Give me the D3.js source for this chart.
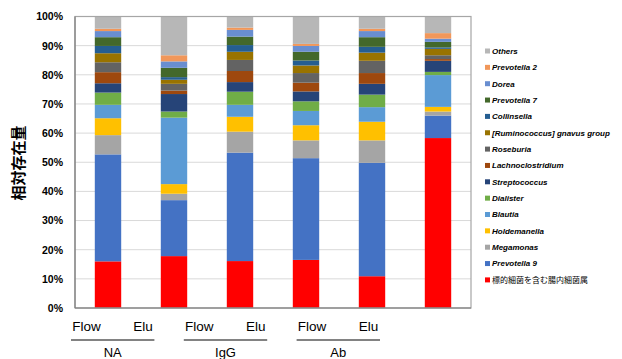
<!DOCTYPE html>
<html><head><meta charset="utf-8">
<script src="https://cdn.jsdelivr.net/npm/d3@7"></script>
<style>body{margin:0;background:#fff}svg{display:block}</style>
</head><body>
<script>
const samples = ["NA-Flow","NA-Elu","IgG-Flow","IgG-Elu","Ab-Flow","Ab-Elu"];
const sampleLabels = ["Flow","Elu","Flow","Elu","Flow","Elu"];
const groups = ["NA","IgG","Ab"];
const taxa = ["標的細菌を含む腸内細菌属","Prevotella 9","Megamonas","Holdemanella","Blautia","Dialister","Streptococcus","Lachnoclostridium","Roseburia","[Ruminococcus] gnavus group","Collinsella","Prevotella 7","Dorea","Prevotella 2","Others"];
const target    = [16.0, 17.8, 16.1, 16.5, 10.9, 58.3];
const prev9     = [36.7, 19.2, 37.2, 34.9, 38.9, 7.7];
const megamonas = [6.6, 2.2, 7.2, 6.1, 7.7, 1.4];
const holdem    = [5.8, 3.3, 5.1, 5.2, 6.4, 1.6];
const blautia   = [4.6, 22.8, 4.1, 4.9, 5.0, 10.9];
const dialister = [4.2, 2.1, 4.5, 3.3, 4.3, 1.1];
const strep     = [3.2, 6.0, 3.3, 3.4, 3.7, 3.8];
const lachno    = [3.8, 1.2, 3.8, 3.0, 3.7, 0.6];
const roseburia = [3.4, 2.3, 3.8, 3.3, 4.2, 1.3];
const rumino    = [3.1, 1.4, 2.8, 2.6, 2.8, 2.2];
const collins   = [2.5, 0.9, 2.3, 1.7, 2.0, 0.5];
const prev7     = [3.0, 3.2, 2.9, 3.0, 3.3, 1.9];
const dorea     = [2.1, 2.2, 2.3, 2.0, 2.1, 1.1];
const prev2     = [0.8, 2.1, 0.8, 0.7, 0.8, 1.9];
const others    = [4.2, 13.3, 3.8, 9.4, 4.2, 5.7];
const seriesVals = [target,prev9,megamonas,holdem,blautia,dialister,strep,lachno,roseburia,rumino,collins,prev7,dorea,prev2,others];
const colors = ["#FF0000","#4472C4","#A5A5A5","#FFC000","#5B9BD5","#70AD47","#264478","#9E480E","#636363","#997300","#255E91","#43682B","#698ED0","#F1975A","#B7B7B7"];
const yTicks = [0,10,20,30,40,50,60,70,80,90,100];

const W=622,H=359;
const svg=d3.select("body").append("svg").attr("width",W).attr("height",H);
const L=75,R=471,T=16.5,B=308;
const x=d3.scaleBand().domain(samples).range([L,R]).paddingInner(0.6).paddingOuter(0.3);
const y=d3.scaleLinear().domain([0,100]).range([B,T]);

// grid
svg.append("g").selectAll("line").data(yTicks).join("line")
 .attr("x1",L).attr("x2",R).attr("y1",d=>y(d)).attr("y2",d=>y(d))
 .attr("stroke","#d9d9d9").attr("stroke-width",1);

// stack
const rows=samples.map((s,i)=>{const o={sample:s};taxa.forEach((t,j)=>o[t]=seriesVals[j][i]);return o;});
const stacked=d3.stack().keys(taxa)(rows);
svg.append("g").selectAll("g").data(stacked).join("g").attr("fill",(d,i)=>colors[i])
 .selectAll("rect").data(d=>d).join("rect")
 .attr("x",d=>x(d.data.sample)).attr("width",x.bandwidth())
 .attr("y",d=>y(d[1])).attr("height",d=>y(d[0])-y(d[1]));

// frame
svg.append("rect").attr("x",L).attr("y",T).attr("width",R-L).attr("height",B-T)
 .attr("fill","none").attr("stroke","#a6a6a6").attr("stroke-width",1.2);
svg.append("line").attr("x1",L).attr("x2",L).attr("y1",T).attr("y2",B).attr("stroke","#7f7f7f").attr("stroke-width",1.2);
svg.append("line").attr("x1",L).attr("x2",R).attr("y1",B).attr("y2",B).attr("stroke","#7f7f7f").attr("stroke-width",1.2);

// y axis labels
const yAxis=d3.axisLeft(y).tickValues(yTicks).tickFormat(d=>d+"%").tickSize(0).tickPadding(12);
const ya=svg.append("g").attr("transform",`translate(${L},0)`).call(yAxis);
ya.select(".domain").remove();
ya.selectAll("text").attr("font-family","Liberation Sans, Arial, sans-serif").attr("font-size",10.5).attr("font-weight","bold").attr("fill","#000");

svg.append("text").attr("transform","translate(24,163) rotate(-90)").attr("text-anchor","middle")
 .attr("font-family","Noto Sans CJK JP").attr("font-size",15).attr("font-weight","bold").text("相対存在量");

// x labels (offset as in original)
const xl=d3.scalePoint().domain(samples).range([86,368]);
const xa=svg.append("g").attr("transform","translate(0,318)").call(d3.axisBottom(xl).tickSize(0).tickFormat((d,i)=>sampleLabels[i]));
xa.select(".domain").remove();
xa.selectAll("text").attr("font-family","Liberation Sans, Arial, sans-serif").attr("font-size",13.5).attr("fill","#000");

// group lines
const groupIdx=groups.map((g,i)=>[samples[2*i],samples[2*i+1]]);
const gg=svg.append("g");
groupIdx.forEach((p,i)=>{
  const x1=xl(p[0])-15,x2=xl(p[1])+12;
  gg.append("line").attr("x1",x1).attr("x2",x2).attr("y1",340).attr("y2",340).attr("stroke","#595959").attr("stroke-width",1.3);
  gg.append("text").attr("x",(x1+x2)/2).attr("y",357).attr("text-anchor","middle")
   .attr("font-family","Liberation Sans, Arial, sans-serif").attr("font-size",13).text(groups[i]);
});

// legend
const lg=svg.append("g");
const legOrder=taxa.map((t,i)=>i).reverse();
legOrder.forEach((ti,k)=>{
  const yy=51+k*16.35;
  lg.append("rect").attr("x",485).attr("y",yy-2.5).attr("width",5).attr("height",5).attr("fill",colors[ti]);
  const isJ=ti===0;
  lg.append("text").attr("x",492).attr("y",yy+2.8)
   .attr("font-family",isJ?"Noto Sans CJK JP":"Liberation Sans, Arial, sans-serif")
   .attr("font-size",isJ?8:8).attr("font-weight",isJ?"normal":"bold").attr("font-style",isJ?"normal":"italic")
   .text(taxa[ti]);
});
</script>
</body></html>
